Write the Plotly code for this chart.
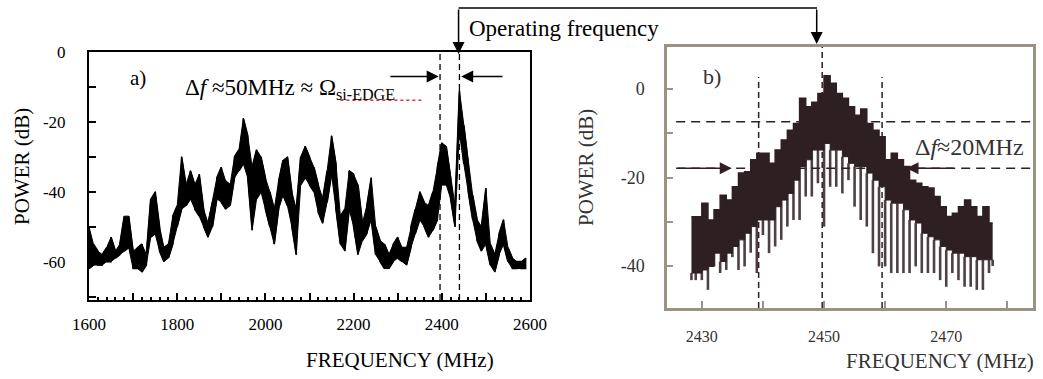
import plotly.graph_objects as go

# ---------------- data: panel a) (wide spectrum) ----------------
freq_a = list(range(1600, 2600, 10))
hi_a = [-50, -55, -57, -58, -56, -53, -57, -55, -47, -47,
        -57, -56, -55, -58, -42, -40, -50, -56, -55, -47,
        -44, -30, -38, -34, -38, -35, -45, -49, -43, -36,
        -33, -37, -38, -30, -28, -19, -24, -33, -28, -30,
        -36, -40, -45, -37, -31, -30, -40, -45, -30, -27,
        -30, -33, -38, -42, -34, -24, -32, -47, -45, -34,
        -35, -38, -49, -44, -36, -50, -54, -55, -58, -55,
        -53, -56, -56, -50, -45, -40, -43, -44, -40, -33,
        -26, -27, -36, -44, -11, -21, -32, -41, -48, -50,
        -39, -55, -58, -52, -48, -56, -59, -60, -60, -59]
lo_a = [-62, -61, -61, -61, -60, -60, -59, -58, -57, -56,
        -62, -62, -63, -61, -53, -52, -57, -60, -59, -55,
        -50, -45, -44, -42, -45, -47, -50, -53, -50, -42,
        -43, -45, -44, -36, -34, -32, -36, -51, -42, -40,
        -45, -50, -55, -45, -41, -44, -50, -58, -38, -36,
        -38, -40, -46, -49, -43, -35, -45, -55, -57, -45,
        -50, -58, -54, -52, -48, -58, -60, -62, -62, -60,
        -59, -60, -61, -56, -52, -48, -50, -53, -51, -48,
        -38, -38, -42, -50, -22, -32, -40, -48, -54, -57,
        -55, -61, -63, -58, -55, -60, -62, -62, -62, -62]

# ---------------- data: panel b) (zoom around operating frequency) ----------------
freq_b = [2428.3, 2429, 2430, 2431, 2432, 2433, 2434, 2435, 2436, 2437,
          2438, 2439, 2440, 2441, 2442, 2443, 2444, 2445, 2446, 2447,
          2448, 2449, 2450, 2451, 2452, 2453, 2454, 2455, 2456, 2457,
          2458, 2459, 2460, 2461, 2462, 2463, 2464, 2465, 2466, 2467,
          2468, 2469, 2470, 2471, 2472, 2473, 2474, 2475, 2476, 2477, 2477.6]
top_b = [-28.9, -28.9, -25.8, -29.6, -27.3, -24.0, -25.1, -22.1, -19.0, -18.7,
         -16.0, -14.5, -14.5, -16.8, -13.8, -11.5, -9.3, -7.8, -2.1, -4.0,
         -3.0, -1.0, 3.0, 1.3, -1.0, -2.1, -4.0, -5.9, -4.5, -7.8,
         -9.3, -10.8, -16.0, -14.5, -16.0, -17.5, -20.6, -21.3, -22.1, -22.4,
         -24.3, -26.6, -28.8, -28.1, -26.6, -25.1, -26.6, -28.8, -26.6, -30.3, -30.3]
bot_b = [-41.6, -41.6, -40.9, -40.1, -37.1, -39.0, -37.1, -35.6, -34.1, -32.6,
         -31.1, -29.6, -29.6, -29.6, -26.6, -25.1, -23.6, -20.6, -17.5, -16.0,
         -13.8, -13.8, -12.3, -13.8, -13.8, -15.3, -16.8, -17.5, -17.5, -19.0,
         -20.6, -22.1, -25.1, -25.8, -25.8, -27.3, -29.6, -30.3, -32.6, -33.4,
         -34.1, -35.6, -36.4, -37.1, -37.1, -37.9, -37.9, -38.6, -38.6, -38.6, -38.6]
spike_b = [-43.2, -43.2, -43.2, -45.4, -40.1, -41.6, -40.9, -38.0, -40.9, -40.1,
           -37.0, -41.6, -33.0, -37.1, -35.6, -34.1, -31.1, -29.6, -29.6, -24.3,
           -24.3, -21.3, -31.1, -22.1, -22.1, -23.6, -20.6, -26.6, -29.6, -31.1,
           -37.1, -40.1, -40.1, -41.6, -41.6, -41.6, -41.6, -40.1, -41.6, -41.6,
           -41.6, -43.2, -44.7, -41.6, -43.2, -44.7, -44.7, -45.4, -45.4, -41.6, -40.0]

# tick labels
xticks_a = list(range(1600, 2601, 100))
xlabels_a = [str(v) if v % 200 == 0 else "" for v in xticks_a]
yticks_a = list(range(-70, 1, 10))
ylabels_a = [("-" + str(-v) if v < 0 else "0") if v % 20 == 0 else "" for v in yticks_a]
xticks_b = list(range(2430, 2481, 10))
xlabels_b = [str(v) if v in (2430, 2450, 2470) else "" for v in xticks_b]
yticks_b = list(range(-40, 1, 10))
ylabels_b = [("-" + str(-v) if v < 0 else "0") if v % 20 == 0 else "" for v in yticks_b]

# ---------------- figure ----------------
W, H = 1043, 379
def px(x): return x / W
def py(y): return 1 - y / H

SERIF = "Liberation Serif"
INK_B = "#2e1f22"
BOX_B = "#9b9185"

fig = go.Figure()

# panel a: envelope band + jagged trace
fig.add_trace(go.Scatter(x=freq_a, y=lo_a, mode="lines", line=dict(color="black", width=1),
                         xaxis="x", yaxis="y", hoverinfo="skip"))
fig.add_trace(go.Scatter(x=freq_a, y=hi_a, mode="lines", line=dict(color="black", width=1),
                         fill="tonexty", fillcolor="black", xaxis="x", yaxis="y", hoverinfo="skip"))
zx, zy = [], []
for i, f in enumerate(freq_a):
    pair = (hi_a[i], lo_a[i]) if i % 2 == 0 else (lo_a[i], hi_a[i])
    zx += [f, f]
    zy += list(pair)
fig.add_trace(go.Scatter(x=zx, y=zy, mode="lines", line=dict(color="black", width=1.6),
                         xaxis="x", yaxis="y", hoverinfo="skip"))

# panel b: spikes + dense band
sx, sy = [], []
for f, b, s in zip(freq_b, bot_b, spike_b):
    sx += [f, f, None]
    sy += [b, s, None]
fig.add_trace(go.Scatter(x=sx, y=sy, mode="lines", line=dict(color="#4e4044", width=2.6),
                         xaxis="x2", yaxis="y2", hoverinfo="skip"))
fig.add_trace(go.Scatter(x=freq_b, y=bot_b, mode="lines", line=dict(color=INK_B, width=1, shape="hv"),
                         xaxis="x2", yaxis="y2", hoverinfo="skip"))
fig.add_trace(go.Scatter(x=freq_b, y=top_b, mode="lines", line=dict(color=INK_B, width=1.5, shape="hv"),
                         fill="tonexty", fillcolor=INK_B, xaxis="x2", yaxis="y2", hoverinfo="skip"))

axis_font_a = dict(family=SERIF, size=17, color="black")
axis_font_b = dict(family=SERIF, size=16, color="#333333")

fig.update_layout(
    width=W, height=H, margin=dict(l=0, r=0, t=0, b=0, pad=0, autoexpand=False),
    paper_bgcolor="white", plot_bgcolor="white", showlegend=False,
    font=dict(family=SERIF),
    xaxis=dict(domain=[px(89), px(530)], range=[1600, 2600], anchor="y", automargin=False,
               tickvals=xticks_a, ticktext=xlabels_a, ticks="inside", ticklen=7, tickwidth=1.5,
               tickcolor="black", showline=True, linecolor="black", linewidth=2, mirror=True,
               minor=dict(dtick=20, ticks="inside", ticklen=3, tickcolor="black"),
               showgrid=False, zeroline=False, tickfont=axis_font_a, ticklabelstandoff=8),
    yaxis=dict(domain=[py(300), py(52)], range=[-71, 0], anchor="x", automargin=False,
               tickvals=yticks_a, ticktext=ylabels_a, ticks="inside", ticklen=7, tickwidth=1.5,
               tickcolor="black", showline=True, linecolor="black", linewidth=2, mirror=True,
               showgrid=False, zeroline=False, tickfont=axis_font_a, ticklabelstandoff=18),
    xaxis2=dict(domain=[px(667), px(1033)], range=[2424.3, 2484.2], anchor="y2", automargin=False,
                tickvals=xticks_b, ticktext=xlabels_b, ticks="inside", ticklen=7, tickwidth=1.5,
                tickcolor=BOX_B, showline=True, linecolor=BOX_B, linewidth=2.5, mirror=True,
                showgrid=False, zeroline=False, tickfont=axis_font_b, ticklabelstandoff=12),
    yaxis2=dict(domain=[py(308), py(47)], range=[-49.5, 9.5], anchor="x2", automargin=False,
                tickvals=yticks_b, ticktext=ylabels_b, ticks="inside", ticklen=6, tickwidth=1.5,
                tickcolor=BOX_B, showline=True, linecolor=BOX_B, linewidth=2.5, mirror=True,
                showgrid=False, zeroline=False, tickfont=dict(family=SERIF, size=18, color="#333333"),
                ticklabelstandoff=16),
)

shapes = []
# panel a dashed guides
for xv in (2396, 2440):
    shapes.append(dict(type="line", xref="x", yref="y", x0=xv, x1=xv, y0=-71, y1=0,
                       line=dict(color="black", width=1.3, dash="6px,4px")))
# red spell-check squiggle under subscript
shapes.append(dict(type="line", xref="x", yref="y", x0=2170, x1=2360, y0=-13.8, y1=-13.8,
                   line=dict(color="#e03030", width=1.5, dash="dot")))
# panel b dashed guides
for yv in (-7.4, -17.9):
    shapes.append(dict(type="line", xref="x2", yref="y2", x0=2425.8, x1=2484.2, y0=yv, y1=yv,
                       line=dict(color=INK_B, width=1.5, dash="9px,6px")))
for xv, y1 in ((2439.3, 2.7), (2449.7, 9.5), (2459.5, 2.7)):
    shapes.append(dict(type="line", xref="x2", yref="y2", x0=xv, x1=xv, y0=-49.5, y1=y1,
                       line=dict(color=INK_B, width=1.5, dash="6px,4px")))
# operating-frequency bracket
shapes.append(dict(type="line", xref="paper", yref="paper", x0=px(458.6), x1=px(817), y0=py(8), y1=py(8),
                   line=dict(color="black", width=1.5)))
fig.update_layout(shapes=shapes)

ann = []
def arrow(x, y, ax, ay, xr, yr, color="black"):
    return dict(x=x, y=y, ax=ax, ay=ay, xref=xr, yref=yr, axref=xr, ayref=yr, text="",
                showarrow=True, arrowhead=2, arrowsize=1.6, arrowwidth=1.5, arrowcolor=color)
ann.append(arrow(2393, -7, 2280, -7, "x", "y"))
ann.append(arrow(2444, -7, 2541, -7, "x", "y"))
ann.append(arrow(2434.9, -17.9, 2425.8, -17.9, "x2", "y2", INK_B))
ann.append(arrow(2463.5, -17.9, 2471.4, -17.9, "x2", "y2", INK_B))
# bracket arrows (pixel offsets for tails)
ann.append(dict(x=2438, y=py(54), xref="x", yref="paper", ax=0, ay=-46, text="", showarrow=True,
                arrowhead=2, arrowsize=1.6, arrowwidth=1.5, arrowcolor="black"))
ann.append(dict(x=2448.8, y=py(44), xref="x2", yref="paper", ax=0, ay=-36, text="", showarrow=True,
                arrowhead=2, arrowsize=1.6, arrowwidth=1.5, arrowcolor="black"))

def txt(t, x, y, size, xanchor="center", angle=0, color="black", xr="paper", yr="paper"):
    return dict(text=t, x=x, y=y, xref=xr, yref=yr, xanchor=xanchor, yanchor="middle",
                showarrow=False, textangle=angle, font=dict(family=SERIF, size=size, color=color))

ann.append(txt("Operating frequency", px(467), py(29), 23, xanchor="left"))
ann.append(txt("a)", 1711, -7.4, 21, xr="x", yr="y"))
ann.append(txt("Δ<i>f</i> ≈50MHz ≈ Ω<sub>si-EDGE</sub>", 1813, -10.6, 23, xanchor="left", xr="x", yr="y"))
ann.append(txt("b)", 2431.7, 2.9, 22, xr="x2", yr="y2", color="#333333"))
ann.append(txt("Δ<i>f</i>≈20MHz", 2473.8, -13.1, 24, xr="x2", yr="y2", color="#333333"))
ann.append(txt("POWER (dB)", px(22), py(167), 21, angle=-90))
ann.append(txt("FREQUENCY (MHz)", px(400), py(360), 21))
ann.append(txt("POWER (dB)", px(586), py(168), 21, angle=-90, color="#333333"))
ann.append(txt("FREQUENCY (MHz)", px(940), py(361), 21, color="#333333"))
fig.update_layout(annotations=ann)

fig.write_html("out.html")
